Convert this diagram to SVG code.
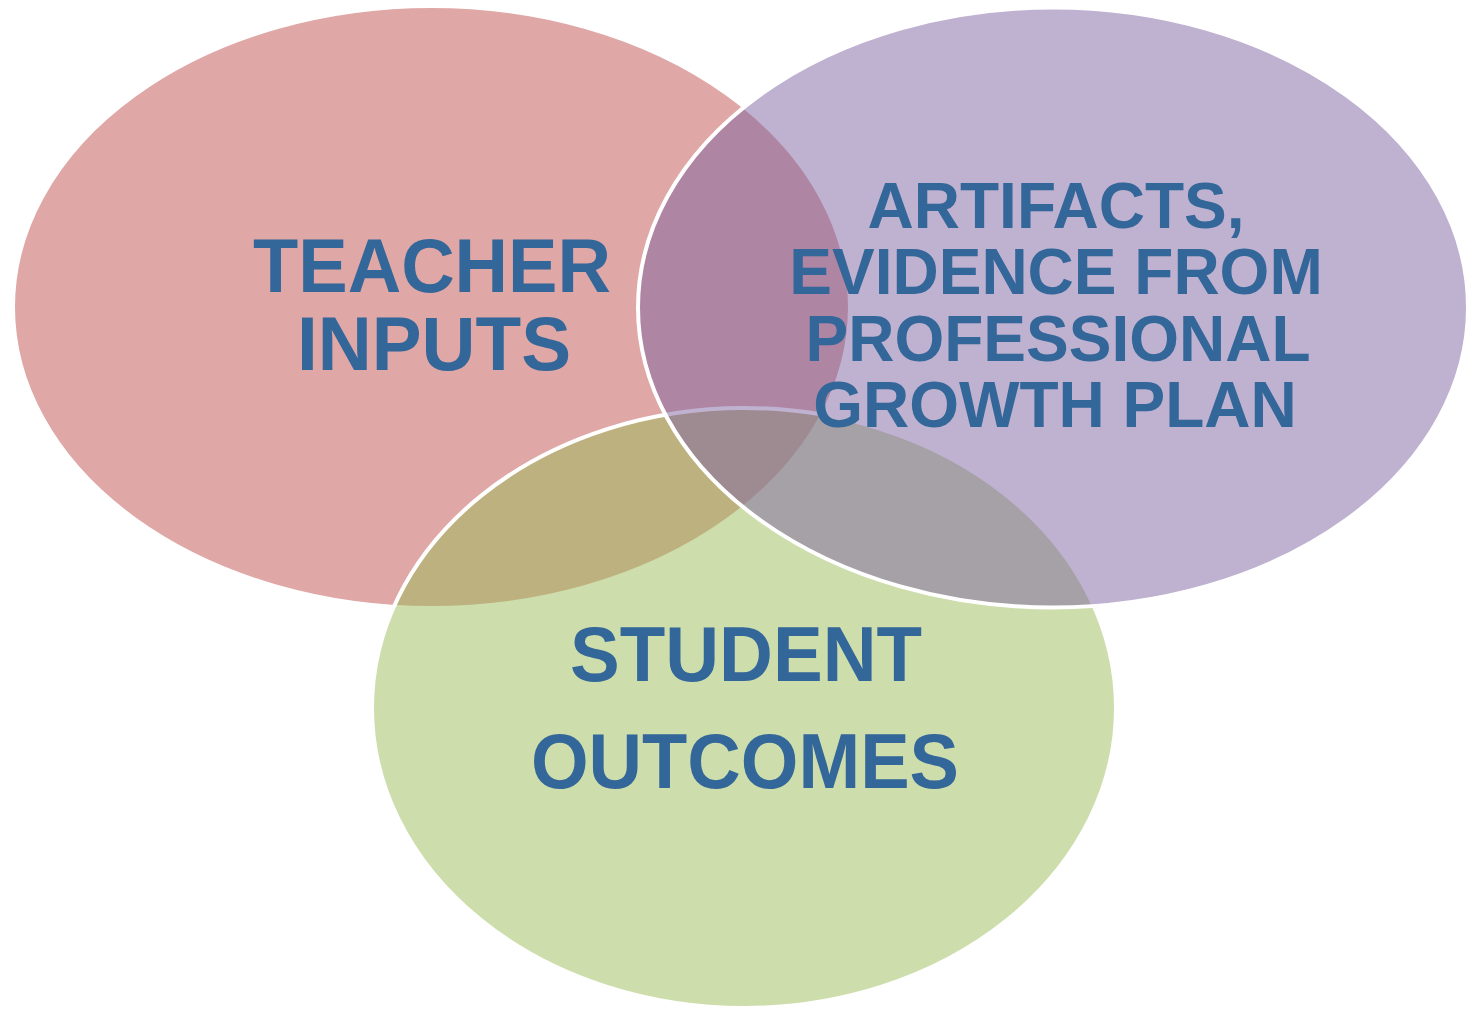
<svg xmlns="http://www.w3.org/2000/svg" width="1468" height="1009" viewBox="0 0 1468 1009">
  <style>
    .circle { fill-opacity: 0.5; stroke: #FFFFFF; stroke-width: 4; }
    .red { fill: #C0504D; }
    .green { fill: #9BBB59; }
    .purple { fill: #8064A2; }
    .label { font-family: "Liberation Sans", Arial, sans-serif; font-weight: bold; fill: #336699; text-anchor: middle; }
  </style>
  <rect x="0" y="0" width="1468" height="1009" fill="#FFFFFF"/>
  <g id="node-teacher-inputs">
    <ellipse class="circle red" cx="431.5" cy="307" rx="418.5" ry="301"/>
    <text class="label" font-size="76" x="432" y="292" textLength="358" lengthAdjust="spacingAndGlyphs">TEACHER</text>
    <text class="label" font-size="76" x="434" y="370" textLength="274" lengthAdjust="spacingAndGlyphs">INPUTS</text>
  </g>
  <g id="node-student-outcomes">
    <ellipse class="circle green" cx="744" cy="708" rx="372" ry="300"/>
    <text class="label" font-size="77" x="746" y="681" textLength="352" lengthAdjust="spacingAndGlyphs">STUDENT</text>
    <text class="label" font-size="77" x="745" y="788" textLength="428" lengthAdjust="spacingAndGlyphs">OUTCOMES</text>
  </g>
  <g id="node-artifacts">
    <ellipse class="circle purple" cx="1053" cy="307.5" rx="415" ry="300"/>
    <text class="label" font-size="64" x="1056" y="228">ARTIFACTS,</text>
    <text class="label" font-size="64" x="1056" y="294">EVIDENCE FROM</text>
    <text class="label" font-size="64" x="1058" y="361">PROFESSIONAL</text>
    <text class="label" font-size="64" x="1055" y="427">GROWTH PLAN</text>
  </g>
  <g id="connectors"/>
</svg>
